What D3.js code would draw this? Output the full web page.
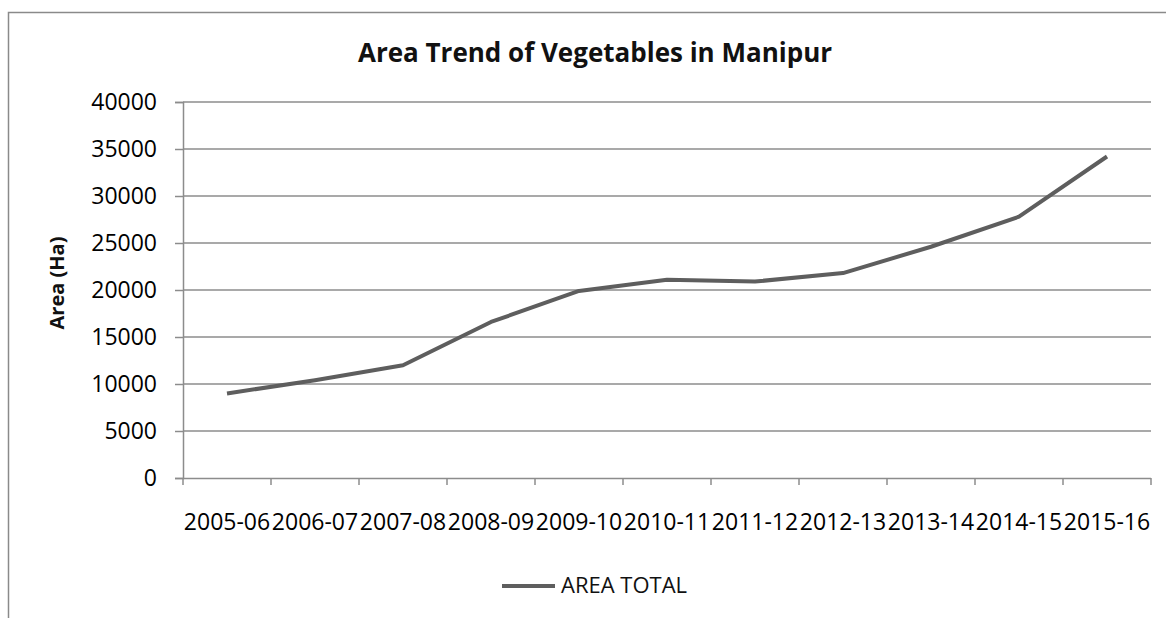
<!DOCTYPE html>
<html>
<head>
<meta charset="utf-8">
<script src="https://cdn.jsdelivr.net/npm/d3@7"></script>
<style>
  body { margin: 0; background: #fff; }
  svg { display: block; }
</style>
</head>
<body>
<div id="chart"></div>
<script>
// data
const years = ["2005-06", "2006-07", "2007-08", "2008-09", "2009-10", "2010-11",
  "2011-12", "2012-13", "2013-14", "2014-15", "2015-16"];
const areaTotal = [9000, 10400, 12000, 16600, 19900, 21100, 20900, 21800, 24600, 27800, 34200];
const yTicks = [0, 5000, 10000, 15000, 20000, 25000, 30000, 35000, 40000];

const width = 1166;
const height = 618;
const font = "'Open Sans', 'Noto Sans', sans-serif";

const svg = d3.select("#chart").append("svg")
  .attr("width", width)
  .attr("height", height);

// outer frame (only left and top edges show)
svg.append("path")
  .attr("d", `M8.5,${height} V12.5 H${width}`)
  .attr("fill", "none")
  .attr("stroke", "#8a8a8a")
  .attr("stroke-width", 1.5);

const plot = { left: 183, right: 1151, top: 102, bottom: 478 };

const x = d3.scaleBand()
  .domain(years)
  .range([plot.left, plot.right]);

const y = d3.scaleLinear()
  .domain([0, 40000])
  .range([plot.bottom, plot.top]);

// gridlines
svg.append("g")
  .selectAll("line")
  .data(yTicks.filter(d => d > 0))
  .join("line")
  .attr("x1", plot.left)
  .attr("x2", plot.right)
  .attr("y1", d => y(d))
  .attr("y2", d => y(d))
  .attr("stroke", "#8c8c8c")
  .attr("stroke-width", 1.5);

// y axis
const yAxis = svg.append("g")
  .attr("transform", `translate(${plot.left},0)`)
  .call(d3.axisLeft(y).tickValues(yTicks).tickSize(8).tickPadding(18).tickFormat(d3.format("d")));

// x axis, ticks at band edges
const xAxis = svg.append("g")
  .attr("transform", `translate(0,${plot.bottom})`)
  .call(d3.axisBottom(x).tickSize(0).tickPadding(36));

xAxis.selectAll(".edge")
  .data(d3.range(years.length + 1))
  .join("line")
  .attr("class", "edge")
  .attr("x1", i => plot.left + i * x.step())
  .attr("x2", i => plot.left + i * x.step())
  .attr("y1", 0)
  .attr("y2", 7)
  .attr("stroke", "#8c8c8c")
  .attr("stroke-width", 1.5);

[yAxis, xAxis].forEach(a => {
  a.select(".domain").attr("stroke", "#8c8c8c").attr("stroke-width", 1.5);
  a.selectAll(".tick line").attr("stroke", "#8c8c8c").attr("stroke-width", 1.5);
  a.selectAll("text")
    .attr("fill", "#000")
    .style("font-family", font)
    .style("font-size", "23px");
});
xAxis.select(".domain").attr("d", `M${plot.left},0.5H${plot.right}`);

// series line
const line = d3.line()
  .x((d, i) => x(years[i]) + x.bandwidth() / 2)
  .y(d => y(d));

svg.append("path")
  .datum(areaTotal)
  .attr("d", line)
  .attr("fill", "none")
  .attr("stroke", "#5e5e5e")
  .attr("stroke-width", 4)
  .attr("stroke-linejoin", "round");

// title
svg.append("text")
  .attr("x", 595)
  .attr("y", 62)
  .attr("text-anchor", "middle")
  .style("font-family", font)
  .style("font-weight", "bold")
  .style("font-size", "26px")
  .attr("fill", "#111")
  .text("Area Trend of Vegetables in Manipur");

// y label
svg.append("text")
  .attr("transform", "translate(57,283) rotate(-90)")
  .attr("text-anchor", "middle")
  .attr("dy", "0.35em")
  .style("font-family", font)
  .style("font-weight", "bold")
  .style("font-size", "20px")
  .attr("fill", "#111")
  .text("Area (Ha)");

// legend
const legend = svg.append("g");
legend.append("line")
  .attr("x1", 502).attr("x2", 555)
  .attr("y1", 586).attr("y2", 586)
  .attr("stroke", "#5e5e5e")
  .attr("stroke-width", 4);
legend.append("text")
  .attr("x", 561)
  .attr("y", 593)
  .style("font-family", font)
  .style("font-size", "22px")
  .attr("fill", "#111")
  .text("AREA TOTAL");
</script>
</body>
</html>
